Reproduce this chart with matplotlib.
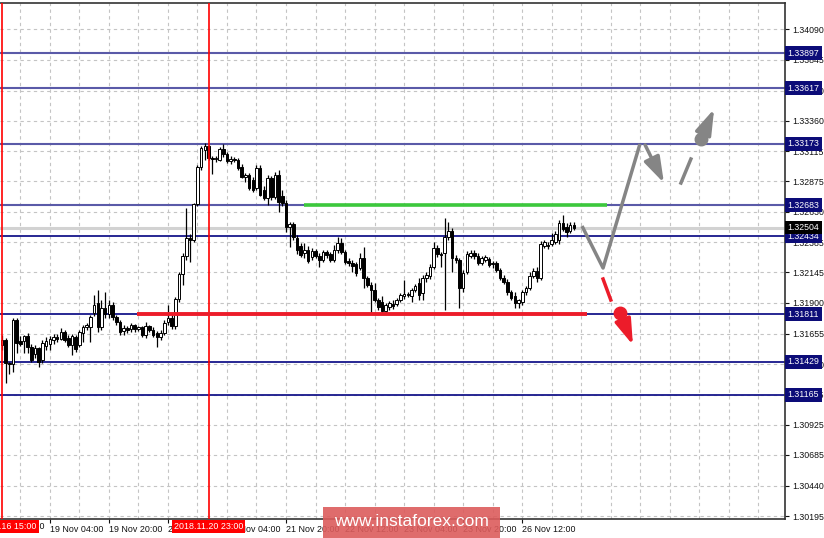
import numpy as np
import matplotlib
matplotlib.use("Agg")
import matplotlib.pyplot as plt
from matplotlib.patches import Rectangle, FancyArrowPatch
import matplotlib.transforms as mtransforms

plt.rcParams['font.family'] = ['Liberation Sans', 'DejaVu Sans']

# ---------------- data (EURUSD-like H1 candles) ----------------
opens = [1.31564, 1.31604, 1.31420, 1.31412, 1.31764, 1.31596, 1.31596, 1.31636, 1.31548, 1.31492,
         1.31540, 1.31444, 1.31556, 1.31572, 1.31604, 1.31628, 1.31612, 1.31668, 1.31620, 1.31564,
         1.31628, 1.31564, 1.31660, 1.31708, 1.31708, 1.31820, 1.31900, 1.31708, 1.31860, 1.31812,
         1.31884, 1.31788, 1.31748, 1.31676, 1.31700, 1.31692, 1.31724, 1.31692, 1.31708, 1.31644,
         1.31716, 1.31684, 1.31660, 1.31628, 1.31660, 1.31748, 1.31780, 1.31716, 1.31932, 1.32132,
         1.32276, 1.32420, 1.32404, 1.32692, 1.32988, 1.33124, 1.33156, 1.33060, 1.33052, 1.33044,
         1.33132, 1.33092, 1.33036, 1.33052, 1.33044, 1.32988, 1.32908, 1.32924, 1.32884, 1.32820,
         1.32980, 1.32804, 1.32740, 1.32900, 1.32748, 1.32924, 1.32756, 1.32700, 1.32508, 1.32532,
         1.32420, 1.32356, 1.32300, 1.32324, 1.32268, 1.32316, 1.32276, 1.32244, 1.32308, 1.32292,
         1.32244, 1.32324, 1.32380, 1.32308, 1.32236, 1.32220, 1.32212, 1.32180, 1.32260, 1.32100,
         1.32044, 1.32004, 1.31924, 1.31908, 1.31836, 1.31868, 1.31892, 1.31892, 1.31924, 1.31956,
         1.31972, 1.31956, 1.32004, 1.32060, 1.31980, 1.32100, 1.32116, 1.32188, 1.32340, 1.32292,
         1.32300, 1.32428, 1.32476, 1.32260, 1.32244, 1.32020, 1.32148, 1.32276, 1.32300, 1.32276,
         1.32220, 1.32244, 1.32252, 1.32212, 1.32220, 1.32164, 1.32100, 1.32068, 1.31988, 1.31956,
         1.31900, 1.31908, 1.31988, 1.32020, 1.32116, 1.32156, 1.32100, 1.32356, 1.32364, 1.32372,
         1.32388, 1.32404, 1.32540, 1.32508, 1.32476, 1.32524]
highs = [1.31644, 1.31620, 1.31428, 1.31780, 1.31780, 1.31636, 1.31644, 1.31660, 1.31572, 1.31564,
         1.31548, 1.31604, 1.31628, 1.31636, 1.31652, 1.31652, 1.31700, 1.31684, 1.31644, 1.31652,
         1.31644, 1.31684, 1.31724, 1.31740, 1.31804, 1.31964, 1.32004, 1.31924, 1.31988, 1.31924,
         1.31908, 1.31804, 1.31764, 1.31724, 1.31716, 1.31740, 1.31732, 1.31716, 1.31716, 1.31748,
         1.31724, 1.31708, 1.31676, 1.31684, 1.31764, 1.31884, 1.31804, 1.31948, 1.32148, 1.32300,
         1.32660, 1.32452, 1.32700, 1.33004, 1.33156, 1.33180, 1.33164, 1.33076, 1.33076, 1.33148,
         1.33172, 1.33108, 1.33076, 1.33068, 1.33060, 1.33012, 1.32940, 1.32940, 1.32908, 1.33004,
         1.33004, 1.32836, 1.32924, 1.32916, 1.32948, 1.32964, 1.32804, 1.32724, 1.32548, 1.32548,
         1.32444, 1.32380, 1.32380, 1.32356, 1.32340, 1.32332, 1.32300, 1.32324, 1.32324, 1.32308,
         1.32364, 1.32428, 1.32420, 1.32324, 1.32260, 1.32244, 1.32228, 1.32300, 1.32348, 1.32116,
         1.32068, 1.32060, 1.31940, 1.31956, 1.31900, 1.31916, 1.31924, 1.31940, 1.31980, 1.32084,
         1.31988, 1.32020, 1.32052, 1.32100, 1.32124, 1.32148, 1.32212, 1.32388, 1.32364, 1.32308,
         1.32580, 1.32548, 1.32500, 1.32284, 1.32260, 1.32164, 1.32316, 1.32324, 1.32324, 1.32300,
         1.32276, 1.32284, 1.32268, 1.32236, 1.32236, 1.32180, 1.32124, 1.32092, 1.32004, 1.31988,
         1.31932, 1.32004, 1.32036, 1.32148, 1.32180, 1.32188, 1.32396, 1.32404, 1.32388, 1.32460,
         1.32476, 1.32564, 1.32604, 1.32540, 1.32548, 1.32548]
lows = [1.31524, 1.31260, 1.31332, 1.31348, 1.31500, 1.31556, 1.31500, 1.31500, 1.31428, 1.31460,
        1.31388, 1.31420, 1.31524, 1.31524, 1.31572, 1.31588, 1.31604, 1.31588, 1.31548, 1.31484,
        1.31508, 1.31548, 1.31588, 1.31684, 1.31588, 1.31796, 1.31668, 1.31684, 1.31780, 1.31780,
        1.31764, 1.31724, 1.31644, 1.31644, 1.31660, 1.31668, 1.31668, 1.31676, 1.31628, 1.31620,
        1.31668, 1.31628, 1.31548, 1.31604, 1.31644, 1.31724, 1.31692, 1.31692, 1.31908, 1.32044,
        1.32244, 1.32228, 1.32388, 1.32676, 1.32964, 1.33044, 1.33044, 1.32932, 1.33028, 1.33036,
        1.33068, 1.33020, 1.33012, 1.33028, 1.32964, 1.32900, 1.32868, 1.32804, 1.32788, 1.32804,
        1.32756, 1.32724, 1.32684, 1.32724, 1.32732, 1.32628, 1.32676, 1.32468, 1.32348, 1.32404,
        1.32292, 1.32268, 1.32260, 1.32220, 1.32244, 1.32260, 1.32188, 1.32228, 1.32260, 1.32228,
        1.32228, 1.32300, 1.32292, 1.32212, 1.32196, 1.32148, 1.32116, 1.32164, 1.32020, 1.32028,
        1.31820, 1.31908, 1.31844, 1.31812, 1.31812, 1.31844, 1.31852, 1.31876, 1.31908, 1.31932,
        1.31948, 1.31908, 1.31988, 1.31924, 1.31924, 1.32068, 1.32092, 1.32172, 1.32268, 1.32188,
        1.31844, 1.32404, 1.32148, 1.32220, 1.31860, 1.31988, 1.32132, 1.32260, 1.32252, 1.32204,
        1.32204, 1.32228, 1.32188, 1.32180, 1.32148, 1.32084, 1.32052, 1.31964, 1.31924, 1.31860,
        1.31860, 1.31884, 1.31964, 1.32004, 1.32100, 1.32068, 1.32084, 1.32340, 1.32332, 1.32356,
        1.32372, 1.32372, 1.32476, 1.32428, 1.32460, 1.32484]
closes = [1.31604, 1.31420, 1.31412, 1.31764, 1.31580, 1.31572, 1.31636, 1.31548, 1.31444, 1.31540,
          1.31428, 1.31580, 1.31596, 1.31612, 1.31628, 1.31612, 1.31668, 1.31604, 1.31564, 1.31636,
          1.31532, 1.31668, 1.31708, 1.31724, 1.31788, 1.31884, 1.31708, 1.31860, 1.31812, 1.31884,
          1.31788, 1.31748, 1.31668, 1.31700, 1.31684, 1.31724, 1.31692, 1.31708, 1.31644, 1.31716,
          1.31684, 1.31644, 1.31628, 1.31660, 1.31740, 1.31780, 1.31716, 1.31932, 1.32132, 1.32276,
          1.32420, 1.32404, 1.32692, 1.32988, 1.33140, 1.33156, 1.33060, 1.33052, 1.33060, 1.33132,
          1.33092, 1.33036, 1.33052, 1.33044, 1.32980, 1.32908, 1.32924, 1.32820, 1.32804, 1.32980,
          1.32764, 1.32740, 1.32900, 1.32748, 1.32924, 1.32708, 1.32700, 1.32508, 1.32532, 1.32428,
          1.32324, 1.32284, 1.32324, 1.32236, 1.32316, 1.32276, 1.32244, 1.32308, 1.32284, 1.32244,
          1.32324, 1.32380, 1.32308, 1.32228, 1.32220, 1.32196, 1.32140, 1.32260, 1.32100, 1.32044,
          1.32004, 1.31924, 1.31868, 1.31836, 1.31884, 1.31900, 1.31876, 1.31924, 1.31964, 1.31972,
          1.31964, 1.32004, 1.32036, 1.31964, 1.32100, 1.32124, 1.32188, 1.32340, 1.32292, 1.32284,
          1.32428, 1.32476, 1.32260, 1.32244, 1.32020, 1.32140, 1.32292, 1.32300, 1.32276, 1.32220,
          1.32260, 1.32268, 1.32204, 1.32220, 1.32164, 1.32100, 1.32068, 1.31988, 1.31940, 1.31900,
          1.31924, 1.31988, 1.32020, 1.32116, 1.32156, 1.32100, 1.32372, 1.32388, 1.32356, 1.32404,
          1.32452, 1.32540, 1.32492, 1.32468, 1.32524, 1.32500]

xtick_bars = [13, 29, 45, 61, 77, 93, 109, 125, 141]
xtick_labels = ["19 Nov 04:00", "19 Nov 20:00", "20 Nov 12:00", "21 Nov 04:00", "21 Nov 20:00",
                "22 Nov 12:00", "23 Nov 04:00", "23 Nov 20:00", "26 Nov 12:00"]
ytick_values = [1.34090, 1.33845, 1.33600, 1.33360, 1.33115, 1.32875, 1.32630, 1.32385, 1.32145,
                1.31900, 1.31655, 1.31410, 1.31165, 1.30925, 1.30685, 1.30440, 1.30195]
upper_levels = [1.33897, 1.33617, 1.33173, 1.32683]
lower_levels = [1.32434, 1.31811, 1.31429, 1.31165]
current_price = 1.32504

green_level = 1.32683
green_span = [82, 164]
red_level = 1.31811
red_span = [36.6, 158.5]
marker_bars = [0, 56]
marker_labels = ["2018.11.16 15:00", "2018.11.20 23:00"]

# forecast sketch (bar, price)
gray_path_x = [157.2, 162.9, 172.9]
gray_path_y = [1.32516, 1.32180, 1.33172]
gray_arrow1 = [(174.3, 1.33164), (179.4, 1.32860)]
gray_dash = [(184.0, 1.32860), (186.7, 1.33052)]
gray_dot = (189.4, 1.33212)
gray_arrow2_end = (193.0, 1.33452)
red_dash = [(162.9, 1.32092), (165.0, 1.31924)]
red_dot = (167.5, 1.31820)
red_arrow_end = (171.0, 1.31564)

# ---------------- figure ----------------
W, H = 824, 538
fig = plt.figure(figsize=(W / 100, H / 100), dpi=100)
ax = fig.add_axes([0 / W, (H - 519) / H, 785 / W, 516 / H])
ax.set_xlim(-0.5, 212.2)
ax.set_ylim(1.30172, 1.34300)

# grid
for yv in ytick_values:
    ax.axhline(yv, color='#c4c4c4', lw=0.8, ls=(0, (3, 3)), zorder=0)
for xv in range(5, 212, 8):
    ax.axvline(xv, color='#c4c4c4', lw=0.8, ls=(0, (3, 3)), zorder=0)

# levels
for lv in upper_levels:
    ax.axhline(lv, color='#5a5aa8', lw=1.5, zorder=1)
for lv in lower_levels:
    ax.axhline(lv, color='#16168a', lw=1.3, zorder=1)
ax.axhline(current_price, color='#d2d2d2', lw=2.2, zorder=1)

# red vertical markers
for b in marker_bars:
    ax.axvline(b, color='#ff0000', lw=1.2, zorder=4)

# candles
o = np.array(opens); h = np.array(highs); l = np.array(lows); c = np.array(closes)
x = np.arange(len(o))
ax.vlines(x, l, h, color='black', lw=0.9, zorder=2)
bull = c >= o
bottom = np.minimum(o, c)
height = np.maximum(np.abs(c - o), 0.00003)
face = np.where(bull, 'white', 'black')
ax.bar(x, height, bottom=bottom, width=0.7, color=face, edgecolor='black', linewidth=0.7, zorder=3)

# green & red horizontal sketch lines
ax.plot(green_span, [green_level, green_level], color='#3cc83c', lw=2.6, zorder=5, solid_capstyle='butt')
ax.plot(red_span, [red_level, red_level], color='#ec1c2a', lw=2.8, zorder=5, solid_capstyle='butt')

# forecast sketch
gcol = '#858585'
rcol = '#ec1c2a'
ax.plot(gray_path_x, gray_path_y, color=gcol, lw=2.5, zorder=6, solid_capstyle='butt')
def arrow(p0, p1, col):
    a = FancyArrowPatch(p0, p1, arrowstyle='-|>,head_length=1.3,head_width=0.42',
                        mutation_scale=12, color=col, lw=2.5, shrinkA=0, shrinkB=0, zorder=6)
    ax.add_patch(a)
arrow(gray_arrow1[0], gray_arrow1[1], gcol)
ax.plot([p[0] for p in gray_dash], [p[1] for p in gray_dash], color=gcol, lw=2.5, zorder=6)
ax.plot([gray_dot[0]], [gray_dot[1]], 'o', color=gcol, ms=9, zorder=7)
arrow(gray_dot, gray_arrow2_end, gcol)
ax.plot([p[0] for p in red_dash], [p[1] for p in red_dash], color=rcol, lw=2.5, zorder=6)
ax.plot([red_dot[0]], [red_dot[1]], 'o', color=rcol, ms=9, zorder=7)
arrow(red_dot, red_arrow_end, rcol)

# axes styling
ax.spines['left'].set_visible(False)
for s in ['right', 'bottom', 'top']:
    ax.spines[s].set_color('#333333')
    ax.spines[s].set_linewidth(1.2)
ax.yaxis.tick_right()
ax.set_yticks(ytick_values)
ax.set_yticklabels([f"{v:.5f}" for v in ytick_values])
ax.tick_params(axis='y', length=3, pad=2, labelsize=6.3, colors='#111111')
ax.set_xticks(xtick_bars)
ax.set_xticklabels(xtick_labels)
ax.tick_params(axis='x', length=3, pad=1.5, labelsize=6.4, colors='#111111')
for t in ax.get_xticklabels():
    t.set_ha('left')

# price labels on right axis
ytr = mtransforms.blended_transform_factory(ax.transAxes, ax.transData)
for lv in upper_levels + lower_levels:
    ax.text(1.0035, lv, f"{lv:.5f}", transform=ytr, ha='left', va='center', fontsize=6.3,
            color='white', zorder=10, clip_on=False,
            bbox=dict(boxstyle='square,pad=0.28', fc='#0c0c78', ec='none'))
ax.text(1.0035, current_price, f"{current_price:.5f}", transform=ytr, ha='left', va='center',
        fontsize=6.3, color='white', zorder=11, clip_on=False,
        bbox=dict(boxstyle='square,pad=0.28', fc='black', ec='none'))

# red time labels
xtr = mtransforms.blended_transform_factory(ax.transData, ax.transAxes)
ax.text(-3, -0.0145, "16 Nov 12:00", transform=xtr, ha='left', va='center', fontsize=6.4,
        color='#111111', clip_on=False, zorder=9)
for b, lab in zip(marker_bars, marker_labels):
    ax.text(b, -0.0145, lab, transform=xtr, ha='center', va='center', fontsize=6.4,
            color='white', zorder=10, clip_on=False,
            bbox=dict(boxstyle='square,pad=0.25', fc='#ff0000', ec='none'))

# watermark
fig.add_artist(Rectangle((323 / W, 0), (500 - 323) / W, (538 - 507) / H,
                         transform=fig.transFigure, facecolor='#dc5c5c', alpha=0.9,
                         edgecolor='none', zorder=20))
fig.text(411 / W, 1 - 522 / H, "www.instaforex.com", ha='center', va='center',
         fontsize=12.5, color='white', zorder=21)

fig.savefig('out.png', dpi=100, facecolor='white')
